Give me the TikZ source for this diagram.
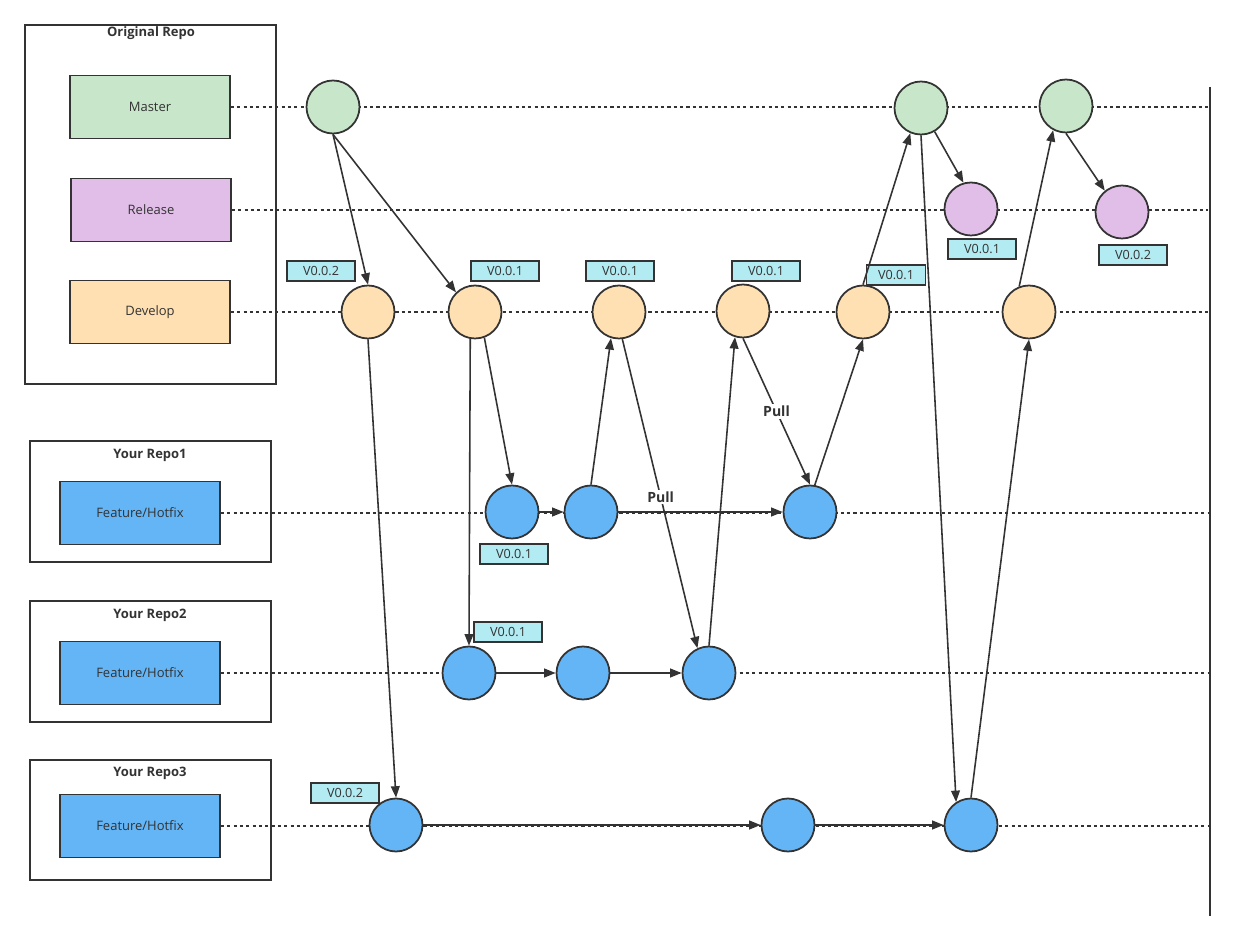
\documentclass[tikz,border=0pt]{standalone}
\usepackage{fontspec}
\setmainfont{Open Sans}
\usetikzlibrary{arrows.meta}

\definecolor{ink}{HTML}{333333}
\definecolor{mastergreen}{HTML}{C8E6C9}
\definecolor{releasepink}{HTML}{E1BEE7}
\definecolor{developpeach}{HTML}{FFE0B2}
\definecolor{featureblue}{HTML}{64B5F6}
\definecolor{tagcyan}{HTML}{B2EBF2}

\begin{document}
\begin{tikzpicture}[
            x=0.02cm, y=-0.02cm,
            repo/.style={rectangle, draw=ink, line width=1.1pt, inner sep=0pt},
            branch/.style={rectangle, draw=ink, line width=1.1pt, minimum width=3.2cm, minimum height=1.26cm, text=ink, font=\fontsize{7.4}{9}\selectfont},
            commit/.style={circle, draw=ink, line width=1pt, minimum size=1.06cm, inner sep=0pt},
            version/.style={rectangle, draw=ink, line width=1pt, fill=tagcyan, minimum width=1.37cm, minimum height=0.4cm, inner sep=0pt, text=ink, font=\fontsize{7.2}{8}\selectfont},
            title/.style={text=ink, font=\bfseries\fontsize{7.4}{9}\selectfont},
            track/.style={draw=ink, line width=0.9pt, dash pattern=on 1.8pt off 1.8pt},
            arrow/.style={-{Triangle[length=6.5pt,width=5pt]}, draw=ink, line width=0.9pt},
            pull/.style={fill=white, inner sep=1pt, text=ink, font=\bfseries\fontsize{8}{9}\selectfont}
        ]
            \useasboundingbox (0,0) rectangle (1235,942);

            % Repositories
            \node[repo, minimum width=5.02cm, minimum height=7.18cm] (orig) at (150.5,204.5) {};
            \node[repo, minimum width=4.82cm, minimum height=2.42cm] (repo1) at (150.5,501.5) {};
            \node[repo, minimum width=4.82cm, minimum height=2.42cm] (repo2) at (150.5,661.5) {};
            \node[repo, minimum width=4.82cm, minimum height=2.40cm] (repo3) at (150.5,820) {};
            \node[title] (origtitle) at (151,33) {Original Repo};
            \node[title] (title1) at (150,455) {Your Repo1};
            \node[title] (title2) at (150,615) {Your Repo2};
            \node[title] (title3) at (150,773) {Your Repo3};

            % Branches
            \node[branch, fill=mastergreen] (master) at (150,107) {Master};
            \node[branch, fill=releasepink] (release) at (151,210) {Release};
            \node[branch, fill=developpeach] (develop) at (150,312) {Develop};
            \node[branch, fill=featureblue] (feat1) at (140,513) {Feature/Hotfix};
            \node[branch, fill=featureblue] (feat2) at (140,673) {Feature/Hotfix};
            \node[branch, fill=featureblue] (feat3) at (140,826) {Feature/Hotfix};

            % Tracks
            \coordinate (mEnd) at (1208,107);
            \coordinate (rEnd) at (1208,210);
            \coordinate (dEnd) at (1208,312);
            \coordinate (f1End) at (1208,513);
            \coordinate (f2End) at (1208,673);
            \coordinate (f3End) at (1208,826);
            \draw[track] (master) -- (mEnd);
            \draw[track] (release) -- (rEnd);
            \draw[track] (develop) -- (dEnd);
            \draw[track] (feat1) -- (f1End);
            \draw[track] (feat2) -- (f2End);
            \draw[track] (feat3) -- (f3End);
            \coordinate (endTop) at (1210,87);
            \coordinate (endBot) at (1210,916);
            \draw[ink, line width=1.1pt] (endTop) -- (endBot);

            % Commits
            \node[commit, fill=mastergreen] (m1) at (333,107) {};
            \node[commit, fill=mastergreen] (m2) at (921,108) {};
            \node[commit, fill=mastergreen] (m3) at (1066,106) {};
            \node[commit, fill=releasepink] (r1) at (971,209) {};
            \node[commit, fill=releasepink] (r2) at (1122,212) {};
            \node[commit, fill=developpeach] (d1) at (368,312) {};
            \node[commit, fill=developpeach] (d2) at (475,312) {};
            \node[commit, fill=developpeach] (d3) at (619,312) {};
            \node[commit, fill=developpeach] (d4) at (743,311) {};
            \node[commit, fill=developpeach] (d5) at (863,312) {};
            \node[commit, fill=developpeach] (d6) at (1029,312) {};
            \node[commit, fill=featureblue] (a1) at (512,512) {};
            \node[commit, fill=featureblue] (a2) at (591,512) {};
            \node[commit, fill=featureblue] (a3) at (810,512) {};
            \node[commit, fill=featureblue] (b1) at (469,673) {};
            \node[commit, fill=featureblue] (b2) at (583,673) {};
            \node[commit, fill=featureblue] (b3) at (709,673) {};
            \node[commit, fill=featureblue] (c1) at (396,825) {};
            \node[commit, fill=featureblue] (c2) at (788,825) {};
            \node[commit, fill=featureblue] (c3) at (971,825) {};

            % Versions
            \node[version] (v1) at (321,271) {V0.0.2};
            \node[version] (v2) at (505,271) {V0.0.1};
            \node[version] (v3) at (620,271) {V0.0.1};
            \node[version] (v4) at (766,271) {V0.0.1};
            \node[version, minimum width=1.18cm] (v5) at (896,275) {V0.0.1};
            \node[version] (v6) at (982,249) {V0.0.1};
            \node[version] (v7) at (1133,255) {V0.0.2};
            \node[version] (v8) at (514,554) {V0.0.1};
            \node[version] (v9) at (508,632) {V0.0.1};
            \node[version] (v10) at (345,793) {V0.0.2};

            % Arrows
            \draw[arrow] (m1.south) -- (d1.north);
            \draw[arrow] (m1.south) -- (d2.134);
            \draw[arrow] (d1.south) -- (c1.north);
            \draw[arrow] (d2.260) -- (b1.north);
            \draw[arrow] (d2.290) -- (a1.north);
            \draw[arrow] (a1.east) -- (a2.west);
            \draw[arrow] (a2.north) -- (d3.253);
            \draw[arrow] (d3.277) -- node[pull, pos=0.51] (pull1) {Pull} (b3.115);
            \draw[arrow] (a2.east) -- (a3.west);
            \draw[arrow] (b1.east) -- (b2.west);
            \draw[arrow] (b2.east) -- (b3.west);
            \draw[arrow] (b3.north) -- (d4.253);
            \draw[arrow] (d4.south) -- node[pull] (pull2) {Pull} (a3.north);
            \draw[arrow] (a3.80) -- (d5.south);
            \draw[arrow] (d5.north) -- (m2.247);
            \draw[arrow] (m2.300) -- (r1.106);
            \draw[arrow] (m2.south) -- (c3.123);
            \draw[arrow] (c1.east) -- (c2.west);
            \draw[arrow] (c2.east) -- (c3.west);
            \draw[arrow] (c3.north) -- (d6.south);
            \draw[arrow] (d6.111) -- (m3.242);
            \draw[arrow] (m3.south) -- (r2.129);
        \end{tikzpicture}
\end{document}
